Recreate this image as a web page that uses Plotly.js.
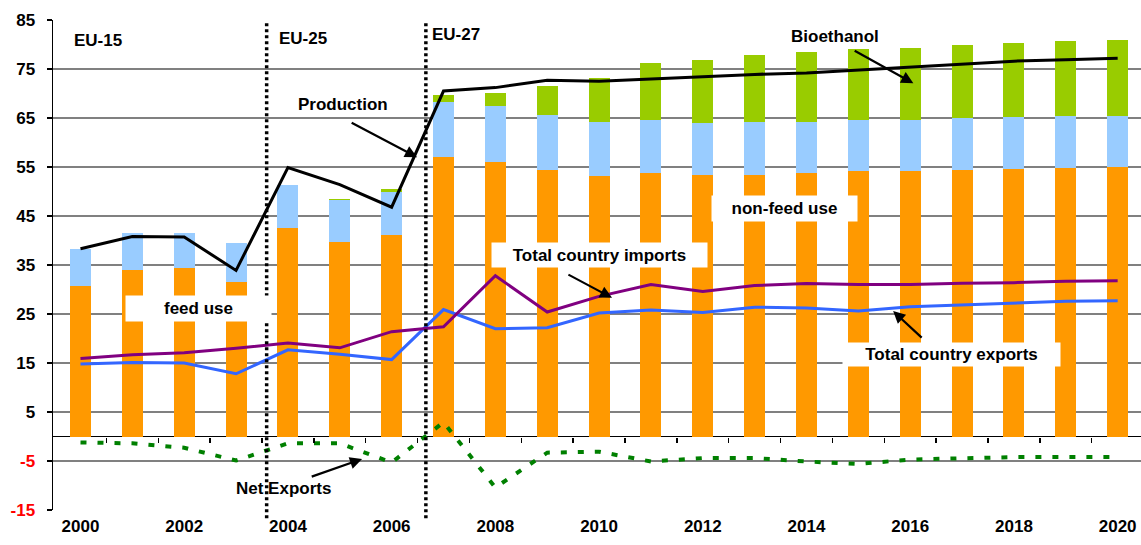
<!DOCTYPE html>
<html>
<head>
<meta charset="utf-8">
<script src="https://cdn.plot.ly/plotly-3.0.1.min.js"></script>
<style>
html,body{margin:0;padding:0;background:#fff;}
#chart{width:1141px;height:545px;}
</style>
</head>
<body>
<div id="chart"></div>
<script>
// ---- data ----
const years = [2000,2001,2002,2003,2004,2005,2006,2007,2008,2009,2010,2011,2012,2013,2014,2015,2016,2017,2018,2019,2020];
const feedUse    = [30.8,34.0,34.4,31.5,42.5,39.7,41.2,57.0,56.0,54.3,53.1,53.7,53.3,53.3,53.7,54.1,54.1,54.3,54.5,54.7,54.9];
const nonFeedUse = [7.4,7.6,7.2,7.9,8.8,8.5,8.8,11.2,11.4,11.3,11.1,10.9,10.7,10.9,10.5,10.5,10.5,10.7,10.7,10.7,10.5];
const bioethanol = [0,0,0,0,0,0.3,0.6,1.5,2.7,5.9,8.9,11.6,12.8,13.6,14.3,14.5,14.7,14.9,15.1,15.3,15.5];
const production = [38.3,40.8,40.7,33.9,54.9,51.4,46.8,70.5,71.2,72.7,72.5,73.0,73.5,73.9,74.2,74.8,75.5,76.1,76.6,76.9,77.2];
const imports    = [15.9,16.7,17.1,18.0,19.1,18.1,21.4,22.4,32.8,25.4,28.6,31.0,29.6,30.8,31.2,31.0,31.0,31.3,31.4,31.7,31.8];
const exportsV   = [14.8,15.1,15.0,12.8,17.7,16.8,15.7,25.9,22.0,22.2,25.2,25.8,25.3,26.4,26.2,25.6,26.5,26.9,27.2,27.6,27.7];
const netExports = [-1.2,-1.4,-2.3,-4.9,-1.4,-1.4,-5.3,2.9,-10.4,-3.3,-3.1,-5.1,-4.4,-4.4,-5.1,-5.6,-4.7,-4.4,-4.2,-4.2,-4.2];
const xTickVals = [2000,2002,2004,2006,2008,2010,2012,2014,2016,2018,2020];
const yTickVals = [-15,-5,5,15,25,35,45,55,65,75,85];
const boundaries = [2000.5,2001.5,2002.5,2003.5,2004.5,2005.5,2006.5,2007.5,2008.5,2009.5,2010.5,2011.5,2012.5,2013.5,2014.5,2015.5,2016.5,2017.5,2018.5,2019.5];
const enlargements = [2003.59, 2006.66];

const FONT = "Arial, 'Liberation Sans', sans-serif";
const barW = 0.405;

const traces = [
  {type:'bar', x:years, y:feedUse, width:barW, marker:{color:'#FF9900'}, name:'feed use', hoverinfo:'skip'},
  {type:'bar', x:years, y:nonFeedUse, width:barW, marker:{color:'#99CCFF'}, name:'non-feed use', hoverinfo:'skip'},
  {type:'bar', x:years, y:bioethanol, width:barW, marker:{color:'#99CC00'}, name:'Bioethanol', hoverinfo:'skip'},
  {type:'scatter', mode:'lines', x:years, y:netExports, line:{color:'#008000', width:4, dash:'6px,11px'}, name:'Net Exports', hoverinfo:'skip'},
  {type:'scatter', mode:'lines', x:years, y:exportsV, line:{color:'#3366FF', width:3}, name:'Total country exports', hoverinfo:'skip'},
  {type:'scatter', mode:'lines', x:years, y:imports, line:{color:'#800080', width:3}, name:'Total country imports', hoverinfo:'skip'},
  {type:'scatter', mode:'lines', x:years, y:production, line:{color:'#000000', width:3}, name:'Production', hoverinfo:'skip'},
  {type:'scatter', mode:'markers', x:[years[0]], y:[0], xaxis:'x2', yaxis:'y', marker:{opacity:0}, hoverinfo:'skip', showlegend:false}
];

const txt = (text, x, y, opts) => Object.assign({
  text:text, x:x, y:y, xref:'x', yref:'y', showarrow:false,
  font:{family:FONT, size:17, color:'#000'}, xanchor:'center', yanchor:'middle'
}, opts||{});

const arrow = (xt, yt, xh, yh) => ({
  text:'', x:xh, y:yh, ax:xt, ay:yt, xref:'x', yref:'y', axref:'x', ayref:'y',
  showarrow:true, arrowhead:2, arrowsize:1.1, arrowwidth:2.2, arrowcolor:'#000'
});

const boxed = {bgcolor:'#fff', borderpad:0};

const annotations = [
  txt('<b>EU-15</b>', 1999.84, 80.9, {xanchor:'left'}),
  txt('<b>EU-25</b>', 2003.79, 81.3, {xanchor:'left'}),
  txt('<b>EU-27</b>', 2006.74, 82.1, {xanchor:'left'}),
  txt('<b>Production</b>', 2005.06, 67.7),
  txt('<b>Bioethanol</b>', 2014.55, 81.7),
  txt('<b>feed use</b>', 2002.28, 26.1, Object.assign({width:145, height:25}, boxed)),
  txt('<b>non-feed use</b>', 2013.58, 46.6, Object.assign({width:145, height:25}, boxed)),
  txt('<b>Total country imports</b>', 2010.01, 37.0, Object.assign({width:215, height:24}, boxed)),
  txt('<b>Total country exports</b>', 2016.80, 16.7, Object.assign({width:217, height:23}, boxed)),
  txt('<b>Net Exports</b>', 2003.92, -10.7),
  arrow(2005.20, 64.2, 2006.49, 57.0),
  arrow(2014.90, 78.9, 2016.06, 72.1),
  arrow(2009.38, 33.2, 2010.25, 28.3),
  arrow(2016.25, 19.9, 2015.67, 25.6),
  arrow(2004.43, -8.3, 2005.43, -4.6)
];

const shapes = enlargements.map(v => ({
  type:'line', xref:'x', yref:'paper', x0:v, x1:v, y0:-0.017, y1:0.996,
  line:{color:'#000', width:3.5, dash:'3px,3px'}, layer:'above'
}));

const yTickText = yTickVals.map(v => v < 0 ? '<span style="color:#FF0000">' + v + '</span>' : String(v));

const layout = {
  width:1141, height:545,
  margin:{l:53, r:0, t:20, b:35},
  paper_bgcolor:'#fff', plot_bgcolor:'#fff',
  barmode:'stack', showlegend:false,
  font:{family:FONT, size:17, color:'#000'},
  xaxis:{
    range:[1999.47, 2020.45], tickvals:xTickVals, ticktext:xTickVals.map(v=>'<b>'+v+'</b>'),
    showgrid:false, zeroline:false, showline:false, ticks:'',
    tickfont:{family:FONT, size:17, color:'#000'}, ticklabelstandoff:4
  },
  xaxis2:{
    overlaying:'x', matches:'x', anchor:'free', position:0.15, side:'bottom',
    tickvals:boundaries, showticklabels:false, ticks:'outside', ticklen:5, tickwidth:1.5, tickcolor:'#000',
    showgrid:false, zeroline:false, showline:false
  },
  yaxis:{
    range:[-15, 85], tickvals:yTickVals, ticktext:yTickText.map(t=>'<b>'+t+'</b>'),
    showgrid:true, gridcolor:'#808080', gridwidth:1.5,
    zeroline:true, zerolinecolor:'#000', zerolinewidth:1.5,
    showline:true, linecolor:'#000', linewidth:1.5,
    ticks:'outside', ticklen:5, tickwidth:1.5, tickcolor:'#000',
    tickfont:{family:FONT, size:17, color:'#000'}, ticklabelstandoff:8
  },
  annotations:annotations,
  shapes:shapes
};

Plotly.newPlot('chart', traces, layout, {displayModeBar:false, staticPlot:true});
</script>
</body>
</html>
